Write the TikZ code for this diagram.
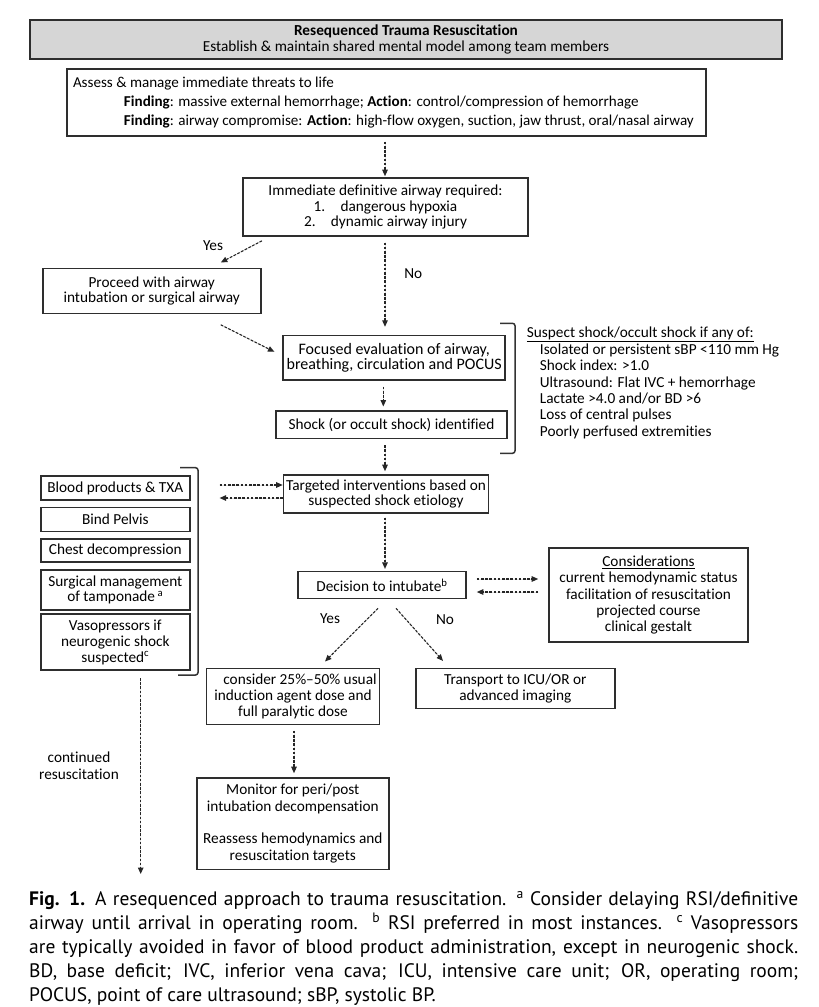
\documentclass[tikz,border=0pt]{standalone}
\usepackage{fontspec}
\setmainfont{Carlito}[Ligatures=NoCommon]
\newfontfamily\capfont{PT Sans}
\usetikzlibrary{arrows.meta,calc}
\newcommand\dfont[1]{\fontsize{15.3}{#1}\selectfont}
\begin{document}
\begin{tikzpicture}[x=1pt,y=-1pt,
  box/.style={draw=black!82, line width=1.6pt, align=center, inner sep=0pt},
  conn/.style={-{Triangle[length=6.5pt,width=5.5pt]}, line width=1.1pt, dash pattern=on 2.6pt off 1.6pt, draw=black!85, fill=black!85},
  brk/.style={line width=1.5pt, draw=black!80, rounded corners=2.5pt},
  lbl/.style={inner sep=0pt, font=\dfont{17}, align=center}]
\useasboundingbox (0,0) rectangle (819,1007);
\fill[white] (0,0) rectangle (819,1007);

% header
\node[box, fill=black!16, minimum width=752pt, minimum height=39pt, font=\dfont{16.7}] (hdr) at (406,39.5)
  {\textbf{Resequenced Trauma Resuscitation}\\Establish \& maintain shared mental model among team members};

% box 1
\node[box, minimum width=639pt, minimum height=67pt, align=left, font=\fontsize{15.1}{18.6}\selectfont] (b1) at (386.5,102.5)
  {\makebox[627pt][l]{Assess \& manage immediate threats to life}\\
   \hspace*{51pt}\textbf{Finding}: massive external hemorrhage; \textbf{Action}: control/compression of hemorrhage\\
   \hspace*{51pt}\textbf{Finding}: airway compromise: \textbf{Action}: high-flow oxygen, suction, jaw thrust, oral/nasal airway};

% airway decision
\node[box, minimum width=285pt, minimum height=58pt, font=\dfont{15.5}] (b2) at (385.5,207)
  {Immediate definitive airway required:\\
   1.\hspace{1em}dangerous hypoxia\\
   2.\hspace{1em}dynamic airway injury};

\node[box, minimum width=218pt, minimum height=45pt, font=\dfont{15}] (proceed) at (151.7,290.8)
  {Proceed with airway\\intubation or surgical airway};

\node[box, minimum width=222pt, minimum height=44.3pt, font=\fontsize{16}{15.6}\selectfont] (focused) at (394.2,357.8)
  {Focused evaluation of airway,\\breathing, circulation and POCUS};

\node[box, minimum width=231pt, minimum height=27.6pt, font=\dfont{15}] (shock) at (391.5,424.5)
  {Shock (or occult shock) identified};

% suspect list
\node[inner sep=0pt, align=left, anchor=north west, font=\dfont{16.4}] (suspect) at (526.7,327)
  {\underline{Suspect shock/occult shock if any of:}\\
   \hspace*{13pt}Isolated or persistent sBP <110 mm Hg\\
   \hspace*{13pt}Shock index: >1.0\\
   \hspace*{13pt}Ultrasound: Flat IVC + hemorrhage\\
   \hspace*{13pt}Lactate >4.0 and/or BD >6\\
   \hspace*{13pt}Loss of central pulses\\
   \hspace*{13pt}Poorly perfused extremities};
\draw[brk] (500,323.3) -- (515,323.3) -- (515,453.3) -- (500,453.3);

% targeted
\node[box, minimum width=205pt, minimum height=38pt, font=\dfont{15}] (target) at (386,494)
  {Targeted interventions based on\\suspected shock etiology};

% left column
\node[box, minimum width=149pt, minimum height=24pt, font=\dfont{15}] (blood) at (115.3,488) {Blood products \& TXA};
\node[box, minimum width=149pt, minimum height=24pt, font=\dfont{15}] (pelvis) at (115.3,519.5) {Bind Pelvis};
\node[box, minimum width=149pt, minimum height=23pt, font=\dfont{15}] (chest) at (115.3,550.5) {Chest decompression};
\node[box, minimum width=149pt, minimum height=40pt, font=\dfont{15.5}] (surg) at (115.3,590) {Surgical management\\of tamponade\,\textsuperscript{a}};
\node[box, minimum width=149pt, minimum height=56pt, font=\dfont{16}] (vaso) at (115.3,642) {Vasopressors if\\neurogenic shock\\suspected\textsuperscript{c}};
\draw[brk] (180,467.7) -- (198,467.7) -- (198,675) -- (178,675);

% decision to intubate
\node[box, minimum width=168pt, minimum height=27pt, font=\dfont{15}] (decide) at (382,585) {Decision to intubate\textsuperscript{b}};

\node[box, minimum width=199pt, minimum height=94pt, font=\dfont{16.4}] (consid) at (648.5,595)
  {\underline{Considerations}\\current hemodynamic status\\facilitation of resuscitation\\projected course\\clinical gestalt};

\node[box, minimum width=173pt, minimum height=56pt, font=\dfont{16}] (induct) at (293,696.3)
  {\hspace*{14pt}consider 25\%--50\% usual\\induction agent dose and\\full paralytic dose};

\node[box, minimum width=199pt, minimum height=40pt, font=\dfont{16}] (transport) at (515.3,688.3)
  {Transport to ICU/OR or\\advanced imaging};

\node[box, minimum width=192pt, minimum height=91.6pt, font=\dfont{16.3}] (monitor) at (292.8,823.5)
  {Monitor for peri/post\\intubation decompensation\\[16.3pt]Reassess hemodynamics and\\resuscitation targets};

% labels
\node[lbl] (yes1) at (213,245.5) {Yes};
\node[lbl] (no1) at (413.3,273.3) {No};
\node[lbl] (yes2) at (330,618.3) {Yes};
\node[lbl] (no2) at (445,619.5) {No};
\node[lbl] (cont) at (79,765.5) {continued\\resuscitation};
\coordinate (contstart) at (140.7,678);
\coordinate (contend) at (140.7,874);

% connectors
\draw[conn] ($(b1.south)+(-1.5,5)$) -- ($(b2.north)+(-0.5,-1)$);
\draw[conn] ($(b2.south west)+(19.7,4)$) -- ($(proceed.north east)+(-40.7,-5)$);
\draw[conn] ($(b2.south)+(-0.5,5.7)$) -- ($(b2.south)+(-0.5,90)$);
\draw[conn] ($(proceed.south east)+(-40.7,10.7)$) -- ($(focused.west)+(-8,-6)$);
\draw[conn] ($(focused.south)+(-10.9,6)$) -- ($(shock.north)+(-8.2,-3.4)$);
\draw[conn] ($(shock.south)+(-6.5,6)$) -- ($(target.north)+(-1,-3)$);
\draw[conn] ($(blood.east)+(29,-3)$) -- ($(target.west)+(0,-9)$);
\draw[conn] ($(target.west)+(0,4)$) -- ($(blood.east)+(29,10)$);
\draw[conn] ($(target.south)+(-1,3.7)$) -- ($(decide.north)+(3,-1.8)$);
\draw[conn] ($(decide.east)+(10,-6)$) -- ($(consid.west)+(-10,-16)$);
\draw[conn] ($(consid.west)+(-10,-3)$) -- ($(decide.east)+(10,7)$);
\draw[conn] ($(decide.south)+(-4,9)$) -- ($(induct.north)+(32,-6)$);
\draw[conn] ($(decide.south)+(14,9)$) -- ($(transport.north west)+(28,-6.6)$);
\draw[conn] ($(induct.south)+(1,5.7)$) -- ($(monitor.north)+(1.2,-3.7)$);
\draw[conn] (contstart) -- (contend);

% caption
\node[inner sep=0pt, align=left, anchor=north west, font=\capfont\fontsize{19.5}{24}\selectfont] (caption) at (29,891)
  {\makebox[769pt][s]{\textbf{Fig. 1.} A resequenced approach to trauma resuscitation. \textsuperscript{a} Consider delaying RSI/definitive}\\
   \makebox[769pt][s]{airway until arrival in operating room. \textsuperscript{b} RSI preferred in most instances. \textsuperscript{c} Vasopressors}\\
   \makebox[769pt][s]{are typically avoided in favor of blood product administration, except in neurogenic shock.}\\
   \makebox[769pt][s]{BD, base deficit; IVC, inferior vena cava; ICU, intensive care unit; OR, operating room;}\\
   POCUS, point of care ultrasound; sBP, systolic BP.};
\end{tikzpicture}
\end{document}
